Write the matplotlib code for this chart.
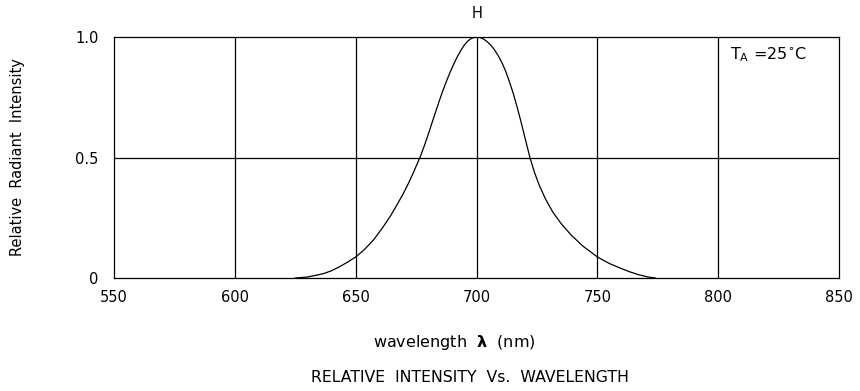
import numpy as np
import matplotlib
matplotlib.use('Agg')
import matplotlib.pyplot as plt

# values
wavelength = [625, 630, 633, 636.6, 640, 643, 646.5, 650, 653.5, 657.3, 660.8, 664.2, 667,
              669.7, 671.8, 673.8, 675.2, 676.6, 678.5, 680, 681.5, 683, 684.5, 686, 687.5,
              689, 690.5, 692, 693.5, 695, 696.5, 698, 700, 701.5, 703, 704.5, 706, 707.5,
              709, 710.5, 712, 713.5, 715.2, 716.8, 718.5, 720.3, 722.1, 724, 726, 728.5,
              731.5, 735, 739, 744, 750, 755, 759.4, 763, 767, 771, 774]
intensity  = [0.0, 0.004, 0.01, 0.018, 0.03, 0.045, 0.065, 0.087, 0.117, 0.157, 0.204, 0.254, 0.302,
              0.35, 0.392, 0.435, 0.468, 0.5, 0.551, 0.595, 0.641, 0.687, 0.732, 0.775, 0.815,
              0.852, 0.886, 0.917, 0.944, 0.967, 0.984, 0.995, 1.0, 0.998, 0.991, 0.98, 0.965, 0.946,
              0.922, 0.894, 0.86, 0.818, 0.766, 0.71, 0.645, 0.572, 0.5, 0.438, 0.384, 0.329,
              0.275, 0.226, 0.18, 0.1325, 0.0875, 0.06, 0.0415, 0.027, 0.014, 0.004, 0.0]

xticks = [550, 600, 650, 700, 750, 800, 850]
yticks = [0, 0.5, 1.0]
ylabels = ['0', '0.5', '1.0']

plt.rcParams['font.family'] = ['DejaVu Sans']
fs = 10.5

fig = plt.figure(figsize=(8.6, 3.91), dpi=100)
ax = fig.add_axes([114/860, 1-278/391, (839-114)/860, (278-37)/391])

ax.plot(wavelength, intensity, color='black', lw=0.9)

ax.set(xlim=[550, 850], ylim=[0, 1.0])
ax.set_xticks(xticks)
ax.set_xticklabels([str(t) for t in xticks], fontsize=fs)
ax.set_yticks(yticks)
ax.set_yticklabels(ylabels, fontsize=fs)
ax.tick_params(length=0, pad=9)
ax.tick_params(axis='y', pad=11)
for s in ax.spines.values():
    s.set_linewidth(0.9)

# grid
for x in xticks[1:-1]:
    ax.axvline(x, color='black', lw=0.9)
ax.axhline(0.5, color='black', lw=0.9)

ax.text(0.85, 0.925, r'T$_{\rm A}$ =25$^{\circ}$C', transform=ax.transAxes,
        fontsize=11.5, va='center', ha='left')

fig.text(477/860, 1-14/391, 'H', ha='center', va='center', fontsize=fs)
fig.text(18/860, 1-157/391, 'Relative  Radiant  Intensity', rotation=90,
         ha='center', va='center', fontsize=fs)
fig.text(454/860, 1-343/391, r'wavelength  $\mathbf{\lambda}$  (nm)', ha='center', va='center', fontsize=11.5)
fig.text(470/860, 1-378/391, 'RELATIVE  INTENSITY  Vs.  WAVELENGTH', ha='center', va='center', fontsize=11.3)

fig.savefig('out.png', dpi=100)
